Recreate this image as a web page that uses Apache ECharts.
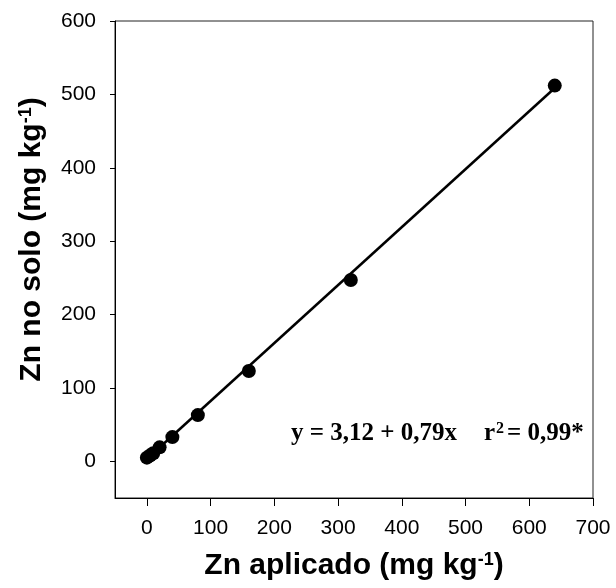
<!DOCTYPE html>
<html>
<head>
<meta charset="utf-8">
<script src="https://cdn.jsdelivr.net/npm/echarts@6/dist/echarts.min.js"></script>
<style>
  html, body { margin: 0; padding: 0; background: #fff; }
  #chart { width: 616px; height: 588px; }
</style>
</head>
<body>
<div id="chart"></div>
<script>
// dados
var znAplicado = [0, 5, 10, 20, 40, 80, 160, 320, 640];
var znSolo = [5, 8, 11, 19, 33, 63, 123, 247, 512];
// reta ajustada y = 3,12 + 0,79x (extremos)
var fitX = [0, 640];
var fitY = [3.12, 508.7];
var xTicks = [0, 100, 200, 300, 400, 500, 600, 700];
var yTicks = [0, 100, 200, 300, 400, 500, 600];

var pontos = [];
for (var i = 0; i < znAplicado.length; i++) {
    pontos.push([znAplicado[i], znSolo[i]]);
}
var reta = [];
for (var j = 0; j < fitX.length; j++) {
    reta.push([fitX[j], fitY[j]]);
}

var myChart = echarts.init(document.getElementById('chart'));

var sans = 'Liberation Sans, Arial';
var serif = 'Liberation Serif, Times New Roman';

option = {
    animation: false,
    backgroundColor: '#fff',
    grid: {
        left: 115, right: 23, top: 21, bottom: 90,
        show: true,
        borderColor: '#222',
        borderWidth: 1,
        containLabel: false,
        outerBoundsMode: 'none'
    },
    xAxis: {
        type: 'value',
        min: -50,
        max: 700,
        name: 'Zn aplicado (mg kg{sup|-1})',
        nameLocation: 'middle',
        nameGap: 53,
        nameTextStyle: {
            fontFamily: sans, fontWeight: 'bold', fontSize: 30, color: '#000',
            rich: { sup: { fontFamily: sans, fontWeight: 'bold', fontSize: 18, color: '#000', verticalAlign: 'top' } }
        },
        axisLine: { onZero: false, lineStyle: { color: '#000', width: 1 } },
        axisTick: { show: true, length: 8, customValues: xTicks, lineStyle: { color: '#000' } },
        axisLabel: { customValues: xTicks, margin: 20, fontFamily: sans, fontSize: 21, color: '#000' },
        splitLine: { show: false }
    },
    yAxis: {
        type: 'value',
        min: -50,
        max: 600,
        name: 'Zn no solo (mg kg{sup|-1})',
        nameLocation: 'middle',
        nameGap: 68,
        nameTextStyle: {
            fontFamily: sans, fontWeight: 'bold', fontSize: 30, color: '#000',
            padding: [0, 0, 0, 40],
            rich: { sup: { fontFamily: sans, fontWeight: 'bold', fontSize: 18, color: '#000', verticalAlign: 'top' } }
        },
        axisLine: { onZero: false, lineStyle: { color: '#000', width: 1 } },
        axisTick: { show: true, length: 5, customValues: yTicks, lineStyle: { color: '#000' } },
        axisLabel: { customValues: yTicks, margin: 19, fontFamily: sans, fontSize: 21, color: '#000' },
        splitLine: { show: false }
    },
    graphic: [
        {
            type: 'text',
            left: 291,
            top: 421,
            style: {
                text: 'y = 3,12 + 0,79x',
                font: 'bold 25px "Liberation Serif", "Times New Roman", serif',
                fill: '#000'
            }
        },
        {
            type: 'text',
            left: 484,
            top: 421,
            style: {
                text: '{a|r}{s|2}{a|= 0,99*}',
                fill: '#000',
                rich: {
                    a: { fontFamily: serif, fontWeight: 'bold', fontSize: 25, lineHeight: 26, verticalAlign: 'middle', color: '#000' },
                    s: { fontFamily: serif, fontWeight: 'bold', fontSize: 16, lineHeight: 26, verticalAlign: 'top', padding: [0, 3, 0, 1], color: '#000' }
                }
            }
        }
    ],
    series: [
        {
            type: 'line',
            data: reta,
            showSymbol: false,
            symbol: 'none',
            lineStyle: { color: '#000', width: 2.5 },
            z: 2
        },
        {
            type: 'scatter',
            data: pontos,
            symbol: 'circle',
            symbolSize: 14,
            itemStyle: { color: '#000', opacity: 1 },
            z: 3
        }
    ]
};

myChart.setOption(option);
</script>
</body>
</html>
